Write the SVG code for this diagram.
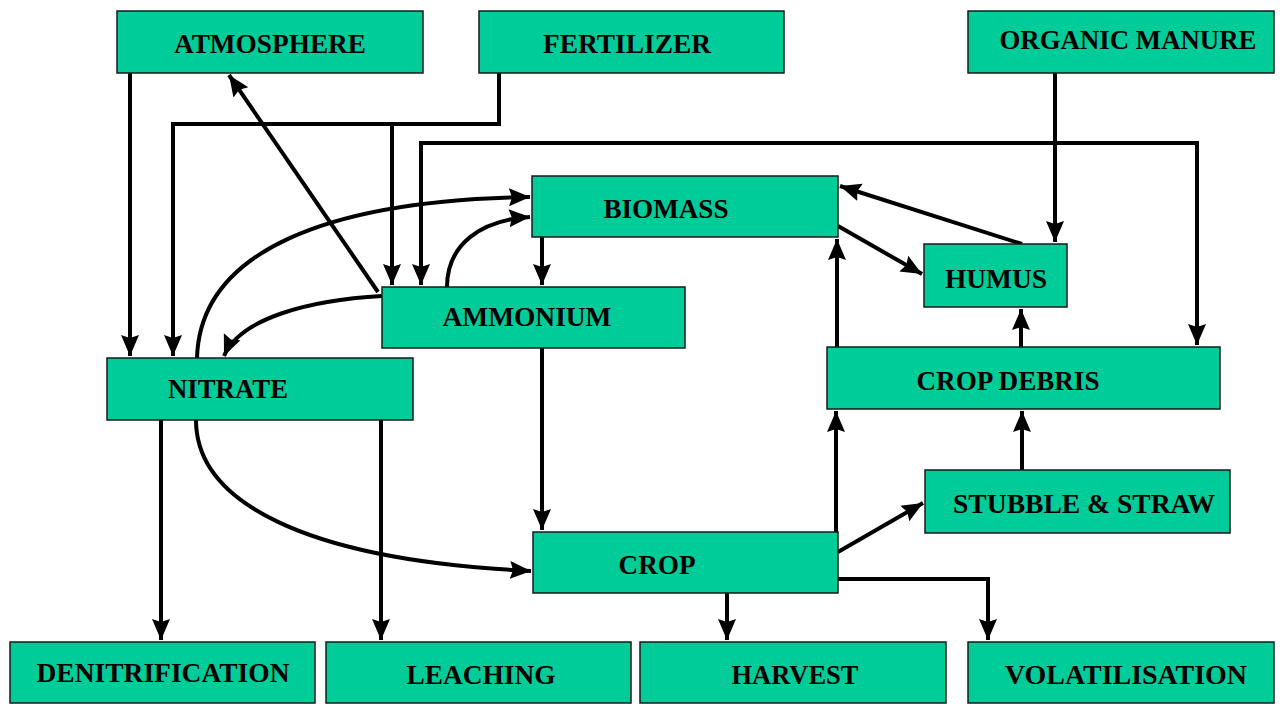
<svg xmlns="http://www.w3.org/2000/svg" width="1282" height="704" viewBox="0 0 1282 704">
<style>
.box{fill:#00CC99;stroke:#1a1a1a;stroke-width:1.5}
.lbl{font-family:"Liberation Serif","Times New Roman",serif;font-weight:bold;font-size:27px;fill:#000;text-anchor:middle}
.ln{fill:none;stroke:#000;stroke-width:4}
</style>
<defs>
<marker id="ah" markerUnits="userSpaceOnUse" markerWidth="22" markerHeight="22" viewBox="0 0 22 22" refX="21" refY="11" orient="auto-start-reverse">
<path d="M0,2 L21,11 L0,20 L3,11 z" fill="#000"/>
</marker>
</defs>
<rect width="1282" height="704" fill="#fff"/>
<g id="connectors">
<path class="ln" d="M130,73 L130,356" marker-end="url(#ah)"/>
<path class="ln" d="M499,73 L499,124 L173,124 L173,356" marker-end="url(#ah)"/>
<path class="ln" d="M392,124 L392,285" marker-end="url(#ah)"/>
<path class="ln" d="M421,285 L421,143 L1197,143 L1197,345" marker-start="url(#ah)" marker-end="url(#ah)"/>
<path class="ln" d="M1055,73 L1055,242" marker-end="url(#ah)"/>
<path class="ln" d="M378,292 L229,75" marker-end="url(#ah)"/>
<path class="ln" d="M197,358 C200,250 330,200 530,197" marker-end="url(#ah)"/>
<path class="ln" d="M447,287 C447,245 480,220 530,217" marker-end="url(#ah)"/>
<path class="ln" d="M382,296 C310,300 240,318 224,356" marker-end="url(#ah)"/>
<path class="ln" d="M542,237 L542,285" marker-end="url(#ah)"/>
<path class="ln" d="M542,348 L542,530" marker-end="url(#ah)"/>
<path class="ln" d="M1022,244 L840,186" marker-end="url(#ah)"/>
<path class="ln" d="M838,226 L922,274" marker-end="url(#ah)"/>
<path class="ln" d="M837,347 L837,239" marker-end="url(#ah)"/>
<path class="ln" d="M1021,347 L1021,309" marker-end="url(#ah)"/>
<path class="ln" d="M836,532 L836,411" marker-end="url(#ah)"/>
<path class="ln" d="M1022,470 L1022,411" marker-end="url(#ah)"/>
<path class="ln" d="M838,552 L923,503" marker-end="url(#ah)"/>
<path class="ln" d="M727,593 L727,640" marker-end="url(#ah)"/>
<path class="ln" d="M838,579 L988,579 L988,640" marker-end="url(#ah)"/>
<path class="ln" d="M161,420 L161,640" marker-end="url(#ah)"/>
<path class="ln" d="M381,420 L381,640" marker-end="url(#ah)"/>
<path class="ln" d="M196,420 C196,500 300,560 531,571" marker-end="url(#ah)"/>
</g>
<g id="atmosphere"><rect class="box" x="117" y="11" width="306" height="62"/><text class="lbl" x="270" y="53" textLength="192" lengthAdjust="spacingAndGlyphs">ATMOSPHERE</text></g>
<g id="fertilizer"><rect class="box" x="479" y="11" width="305" height="62"/><text class="lbl" x="627" y="53" textLength="168" lengthAdjust="spacingAndGlyphs">FERTILIZER</text></g>
<g id="organic-manure"><rect class="box" x="968" y="11" width="306" height="62"/><text class="lbl" x="1128" y="49" textLength="257" lengthAdjust="spacingAndGlyphs">ORGANIC MANURE</text></g>
<g id="biomass"><rect class="box" x="532" y="176" width="306" height="61"/><text class="lbl" x="666" y="218" textLength="125" lengthAdjust="spacingAndGlyphs">BIOMASS</text></g>
<g id="ammonium"><rect class="box" x="382" y="287" width="303" height="61"/><text class="lbl" x="527" y="326" textLength="169" lengthAdjust="spacingAndGlyphs">AMMONIUM</text></g>
<g id="nitrate"><rect class="box" x="107" y="358" width="306" height="62"/><text class="lbl" x="228" y="398" textLength="120" lengthAdjust="spacingAndGlyphs">NITRATE</text></g>
<g id="humus"><rect class="box" x="924" y="244" width="143" height="63"/><text class="lbl" x="996" y="288" textLength="102" lengthAdjust="spacingAndGlyphs">HUMUS</text></g>
<g id="crop-debris"><rect class="box" x="827" y="347" width="393" height="62"/><text class="lbl" x="1008" y="390" textLength="183" lengthAdjust="spacingAndGlyphs">CROP DEBRIS</text></g>
<g id="stubble-straw"><rect class="box" x="925" y="470" width="305" height="63"/><text class="lbl" x="1084" y="513" textLength="262" lengthAdjust="spacingAndGlyphs">STUBBLE &amp; STRAW</text></g>
<g id="crop"><rect class="box" x="533" y="532" width="305" height="61"/><text class="lbl" x="657" y="574" textLength="77" lengthAdjust="spacingAndGlyphs">CROP</text></g>
<g id="denitrification"><rect class="box" x="10" y="642" width="305" height="61"/><text class="lbl" x="163" y="682" textLength="253" lengthAdjust="spacingAndGlyphs">DENITRIFICATION</text></g>
<g id="leaching"><rect class="box" x="326" y="642" width="305" height="61"/><text class="lbl" x="481" y="684" textLength="149" lengthAdjust="spacingAndGlyphs">LEACHING</text></g>
<g id="harvest"><rect class="box" x="640" y="642" width="306" height="61"/><text class="lbl" x="795" y="684" textLength="127" lengthAdjust="spacingAndGlyphs">HARVEST</text></g>
<g id="volatilisation"><rect class="box" x="968" y="642" width="306" height="61"/><text class="lbl" x="1126" y="684" textLength="242" lengthAdjust="spacingAndGlyphs">VOLATILISATION</text></g>
</svg>
